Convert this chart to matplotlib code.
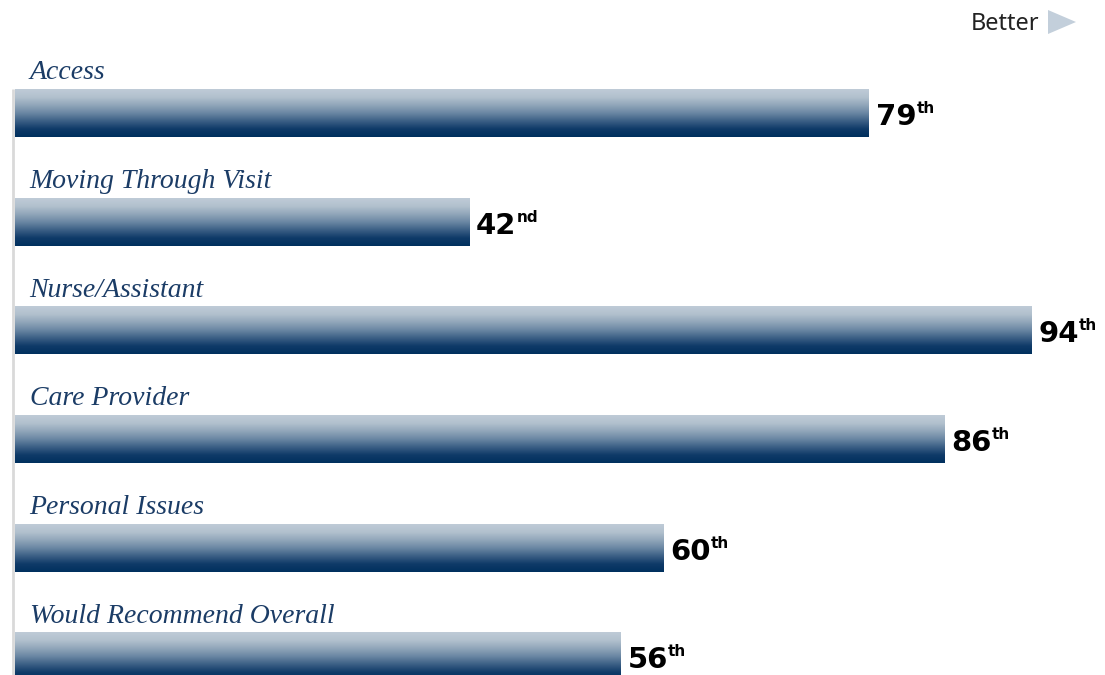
import numpy as np
import matplotlib
matplotlib.use('Agg')
import matplotlib.pyplot as plt
from matplotlib.colors import LinearSegmentedColormap
from matplotlib.patches import Polygon
from matplotlib.transforms import Affine2D

# percentile ranks per survey section
categories = ['Access', 'Moving Through Visit', 'Nurse/Assistant',
              'Care Provider', 'Personal Issues', 'Would Recommend Overall']
ranks = [79, 42, 94, 86, 60, 56]
suffixes = ['th', 'nd', 'th', 'th', 'th', 'th']

navy = '#1b3c66'
bar_h = 0.44

# light steel at the top fading to dark navy at the bottom
grad = LinearSegmentedColormap.from_list(
    'bar', ['#bfcbd7', '#b2c1ce', '#91a6ba', '#6a87a3', '#3b5f85', '#0f3a68', '#00305e'])
ramp = np.linspace(0, 1, 256).reshape(-1, 1)

fig = plt.figure(figsize=(11.05, 6.75), dpi=100)
ax = fig.add_axes([15 / 1105, 0, 1081 / 1105, 1])
ax.set_xlim(0, 100)
ax.set_ylim(5.17, -1.04)
ax.axis('off')

for i, (name, v, suf) in enumerate(zip(categories, ranks, suffixes)):
    ax.imshow(ramp, cmap=grad, aspect='auto', interpolation='bilinear',
              extent=[0, v, i + bar_h / 2, i - bar_h / 2], zorder=2)
    ax.text(1.35, i - 0.31, name, family='Liberation Serif', style='italic',
            fontsize=20, color=navy, va='baseline', ha='left')
    num = ax.text(v + 0.65, i + 0.11, str(v), family='DejaVu Sans',
                  weight='bold', fontsize=21, color='black',
                  va='baseline', ha='left')
    ax.annotate(suf, xy=(1, 0), xycoords=num, xytext=(0, 13),
                textcoords='offset points', family='DejaVu Sans',
                weight='bold', fontsize=11, color='black',
                va='baseline', ha='left')

# thin guide on the left edge
ax.vlines(-0.15, -bar_h / 2, 5.17, color='#d9d9d9', lw=2, zorder=1,
          clip_on=False)

fig.text(1039 / 1105, 1 - 24 / 675, 'Better', family='Noto Sans',
         weight='light', fontsize=17, color='#222222',
         ha='right', va='center')
# arrow head next to "Better", in pixel coordinates from the top-left
px = Affine2D().scale(1, -1).translate(0, 675)
fig.patches.append(Polygon([[1048, 10], [1048, 34], [1076, 22]],
                           closed=True, facecolor='#c3cfdb', edgecolor='none',
                           transform=px))

fig.savefig('out.png', dpi=100)
